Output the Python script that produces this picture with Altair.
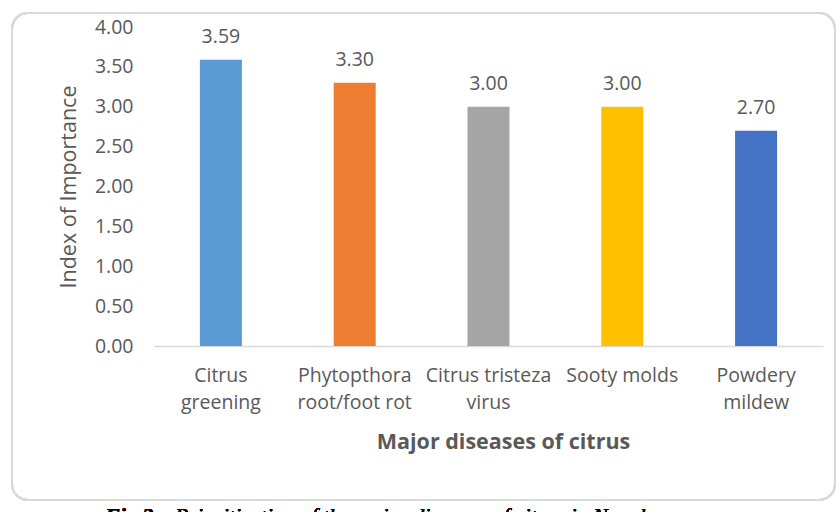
import json
import altair as alt
import pandas as pd

categories = ["Citrus greening", "Phytopthora root/foot rot", "Citrus tristeza virus",
              "Sooty molds", "Powdery mildew"]
label_lines = [["Citrus", "greening"], ["Phytopthora", "root/foot rot"],
               ["Citrus tristeza", "virus"], ["Sooty molds"], ["Powdery", "mildew"]]
values = [3.59, 3.30, 3.00, 3.00, 2.70]
colors = ["#5B9BD5", "#ED7D31", "#A5A5A5", "#FFC000", "#4472C4"]
y_ticks = [0, 0.5, 1.0, 1.5, 2.0, 2.5, 3.0, 3.5, 4.0]

df = pd.DataFrame({"disease": categories, "value": values})
label_map = json.dumps(dict(zip(categories, label_lines)))

FONT = "Open Sans"
GREY = "#595959"
W, H = 669, 319
LEFT, TOP = 154, 27

x = alt.X("disease:N", sort=categories,
          scale=alt.Scale(paddingInner=0.686, paddingOuter=0.343),
          axis=alt.Axis(title="Major diseases of citrus", labelAngle=0, ticks=False,
                        domainColor="#D9D9D9", domainWidth=1.3,
                        labelExpr=f"{label_map}[datum.label]",
                        labelFont=FONT, labelFontSize=19.5, labelColor=GREY,
                        labelPadding=20, labelLineHeight=27, labelBaseline="top",
                        labelOverlap=False,
                        titleFont=FONT, titleFontSize=21.5, titleFontWeight="bold",
                        titleColor=GREY, titleX=349, titleY=102,
                        titleBaseline="alphabetic", titleAlign="center"))
y = alt.Y("value:Q",
          scale=alt.Scale(domain=[0, 4], nice=False),
          axis=alt.Axis(title="Index of Importance", values=y_ticks, format=".2f",
                        grid=False, domain=False, ticks=False, labelOverlap=False,
                        labelFont=FONT, labelFontSize=19.5, labelColor=GREY,
                        labelPadding=21,
                        titleFont=FONT, titleFontSize=21.5, titleFontWeight="normal",
                        titleColor=GREY, titleAngle=-90, titleX=-79, titleY=159.5,
                        titleBaseline="alphabetic", titleAlign="center"))

bars = alt.Chart(df).mark_bar().encode(
    x=x, y=y,
    color=alt.Color("disease:N", sort=categories,
                    scale=alt.Scale(domain=categories, range=colors), legend=None))

texts = alt.Chart(df).mark_text(font=FONT, fontSize=19.5, color=GREY,
                                baseline="alphabetic", dy=-17).encode(
    x=x, y=y,
    text=alt.Text("value:Q", format=".2f"))

frame = alt.Chart(df).mark_rect(fill=None, stroke="#D9D9D9", strokeWidth=2,
                                cornerRadius=16).encode(
    x=alt.value(12 - LEFT), x2=alt.value(835 - LEFT),
    y=alt.value(13 - TOP), y2=alt.value(500 - TOP))

cap1 = alt.Chart(df).mark_text(font="Liberation Serif", fontSize=22, fontWeight="bold",
                               fontStyle="italic", color="#000000", align="left",
                               baseline="alphabetic").encode(
    x=alt.value(105 - LEFT), y=alt.value(523 - TOP), text=alt.value("Fig 2."))
cap2 = alt.Chart(df).mark_text(font="Liberation Serif", fontSize=22, fontWeight="normal",
                               fontStyle="italic", color="#000000", align="left",
                               baseline="alphabetic").encode(
    x=alt.value(175 - LEFT), y=alt.value(523 - TOP),
    text=alt.value("Prioritization of the major diseases of citrus in Nepal"))

chart = alt.layer(frame, bars, texts, cap1, cap2).properties(
    width=W, height=H,
    background="white",
    autosize=alt.AutoSizeParams(type="none"),
    padding={"left": LEFT, "top": TOP, "right": 839 - LEFT - W, "bottom": 512 - TOP - H},
).configure_view(stroke=None)

chart.save("out.html", embed_options={"renderer": "svg", "actions": False})
